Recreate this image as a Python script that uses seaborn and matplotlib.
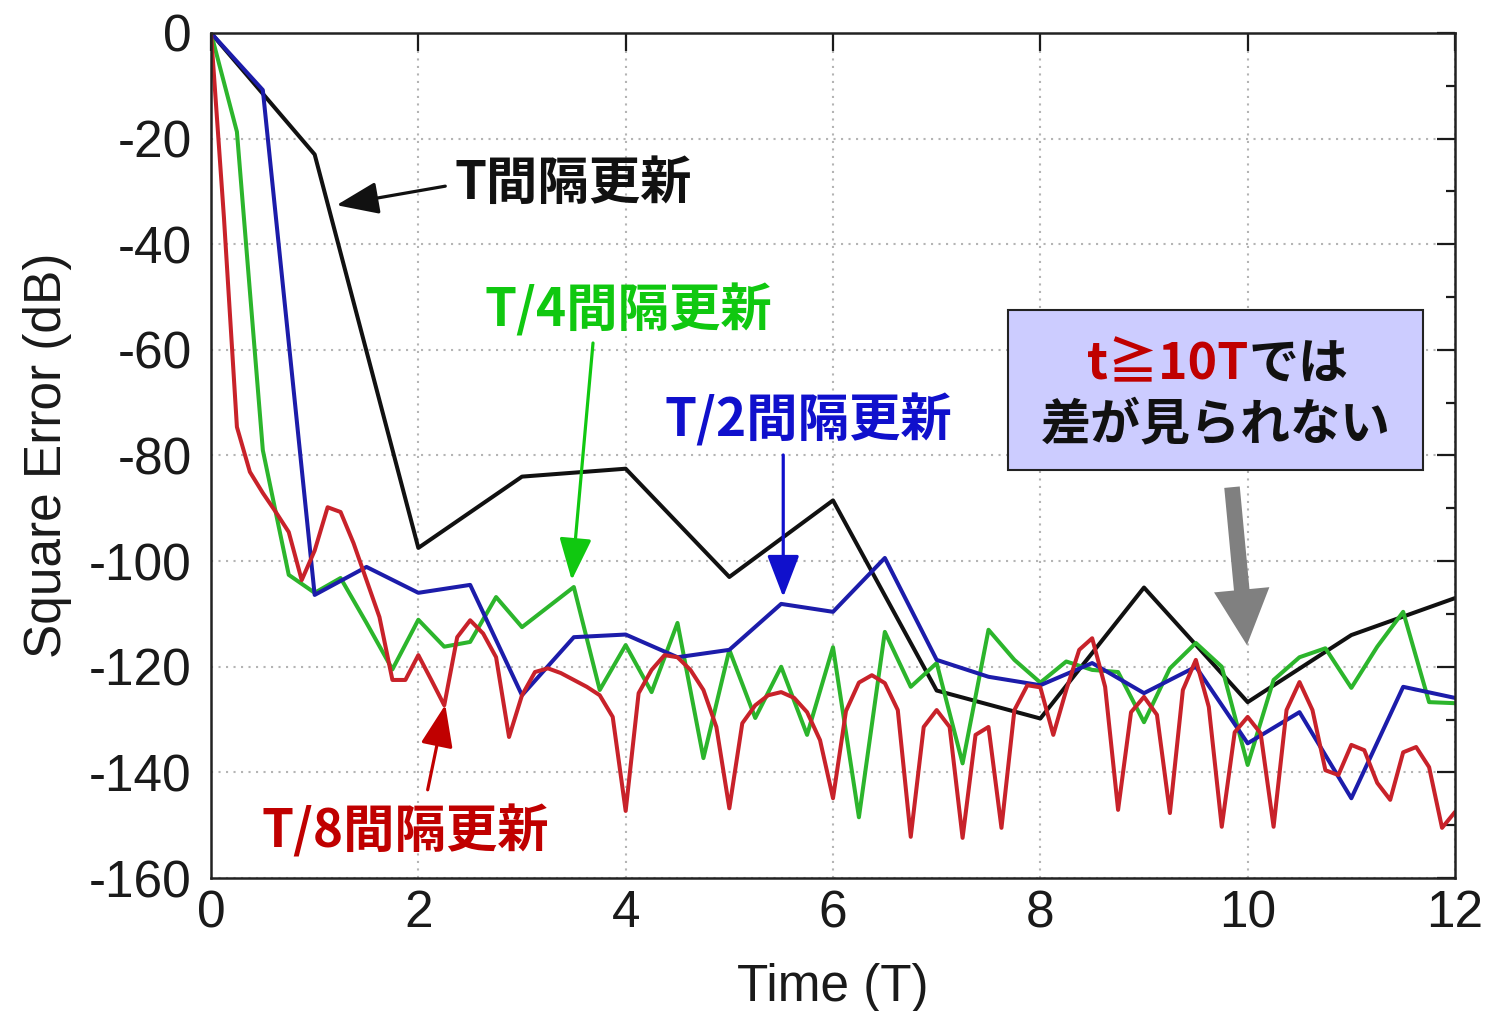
import numpy as np
import pandas as pd
import matplotlib
matplotlib.use("Agg")
import matplotlib.pyplot as plt
from matplotlib.patches import Rectangle
from matplotlib.ticker import MultipleLocator
import seaborn as sns

# Sampling grids (time in units of T) for each update interval
t_T = np.arange(0, 12.001, 1.0)
t_T2 = np.arange(0, 12.001, 0.5)
t_T4 = np.arange(0, 12.001, 0.25)
t_T8 = np.arange(0, 12.001, 0.125)

# Square error (dB) for update interval T
err_T = [0, -23, -97.5, -84, -82.5, -103, -88.5, -124.5, -129.8, -105, -126.7, -114, -107]

# Square error (dB) for update interval T/2
err_T2 = [0, -10.8, -106.4, -101.1, -106, -104.5, -125.4, -114.4, -113.9, -118.2,
          -116.8, -108.1, -109.6, -99.4, -118.7, -121.9, -123.5, -119.3, -125, -120,
          -134.5, -128.6, -144.9, -123.8, -125.9]

# Square error (dB) for update interval T/4
err_T4 = [0, -18.7, -79, -102.6,
          -106, -103.2, -111.7, -120.5,
          -111.1, -116.2, -115.3, -106.8,
          -112.5, -108.7, -104.9, -124.4,
          -115.9, -124.8, -111.7, -137.3,
          -116.8, -129.7, -120, -132.9,
          -116.3, -148.5, -113.4, -123.8,
          -119.3, -138.3, -113, -118.7,
          -123, -119, -120.6, -121,
          -130.5, -120.3, -115.5, -120,
          -138.6, -122.5, -118.2, -116.5,
          -124, -116.2, -109.6, -126.7,
          -126.9]

# Square error (dB) for update interval T/8
err_T8 = [0, -35, -74.6, -83.1, -87.1, -90.7, -94.5, -103.6,
          -98, -89.8, -90.7, -96.6, -103.6, -110.6, -122.5, -122.5,
          -117.8, -122.5, -127.3, -114.4, -111.2, -113.7, -118.2, -133.3,
          -125.4, -121, -120.3, -121.2, -122.5, -123.8, -125.4, -129.5,
          -147.3, -125, -120.6, -117.8, -118.2, -120.6, -124.4, -131.4,
          -146.8, -130.7, -127.3, -125.4, -124.8, -125.9, -128.6, -133.9,
          -144.9, -128.4, -123, -121.6, -123.1, -128.2, -152.2, -131.4,
          -128.2, -131.4, -152.4, -132.9, -131.4, -150.5, -128.2, -123.5,
          -123.9, -132.9, -124.4, -116.8, -114.6, -123.8, -147.1, -128.6,
          -125.7, -129.1, -147.7, -124.4, -118.7, -127.6, -150.3, -132.4,
          -129.5, -132.6, -150.3, -128.2, -122.9, -128.2, -139.6, -140.5,
          -134.8, -135.8, -142, -145.2, -136.2, -135.2, -139, -150.5,
          -147.5]

series_labels = ["T間隔更新", "T/4間隔更新", "T/2間隔更新", "T/8間隔更新"]
line_colors = ["#111111", "#2cb52c", "#1c1caa", "#c8222a"]
text_colors = ["#111111", "#10c810", "#1010cc", "#c00000"]

df = pd.concat([
    pd.DataFrame({"time": t_T, "err": err_T, "interval": series_labels[0]}),
    pd.DataFrame({"time": t_T4, "err": err_T4, "interval": series_labels[1]}),
    pd.DataFrame({"time": t_T2, "err": err_T2, "interval": series_labels[2]}),
    pd.DataFrame({"time": t_T8, "err": err_T8, "interval": series_labels[3]}),
], ignore_index=True)

sns.set_style("white")
plt.rcParams["font.family"] = ["Liberation Sans", "DejaVu Sans"]
plt.rcParams["axes.unicode_minus"] = False
CJK = ["Noto Sans CJK JP", "DejaVu Sans"]

fig = plt.figure(figsize=(14.88, 10.11), dpi=100)
ax = fig.add_axes([211 / 1488, 133 / 1011, 1244 / 1488, 845 / 1011])

sns.lineplot(data=df, x="time", y="err", hue="interval",
             palette=dict(zip(series_labels, line_colors)),
             estimator=None, sort=False, legend=False, ax=ax)
for ln in ax.lines:
    ln.set_linewidth(2.9)
    ln.set_solid_joinstyle("round")

ax.set_xlim(0, 12)
ax.set_ylim(-160, 0)
ax.xaxis.set_major_locator(MultipleLocator(2))
ax.yaxis.set_major_locator(MultipleLocator(20))
ax.yaxis.set_minor_locator(MultipleLocator(10))
ax.tick_params(which="both", direction="in", top=True, right=True,
               colors="#1a1a1a", width=1.6)
ax.tick_params(which="major", length=13, labelsize=37)
ax.tick_params(which="minor", length=6.5)
ax.tick_params(axis="y", pad=14)
ax.tick_params(axis="x", pad=8)
ax.grid(True, which="major", linestyle=(0, (1, 2.6)), color="#b4b4b4", linewidth=1.5)
for s in ax.spines.values():
    s.set_linewidth(1.8)
    s.set_color("#222222")

ax.set_xlabel("Time (T)", fontsize=37, color="#1a1a1a", labelpad=18)
ax.set_ylabel("Square Error (dB)", fontsize=37, color="#1a1a1a", labelpad=12)


def label_arrow(text, color, txt_xy, tail, tip):
    ax.text(*txt_xy, text, color=color, fontsize=37, fontweight="bold",
            family=CJK, ha="center", va="center", zorder=6)
    ax.annotate("", xy=tip, xytext=tail, zorder=6,
                arrowprops=dict(arrowstyle="-|>,head_length=1.3,head_width=0.5",
                                mutation_scale=20, lw=2.3, color=color,
                                shrinkA=0, shrinkB=0))


label_arrow(series_labels[0], text_colors[0], (3.49, -28.4), (2.26, -29.0), (1.21, -32.6))
label_arrow(series_labels[1], text_colors[1], (4.03, -52.6), (3.685, -58.7), (3.48, -103.6))
label_arrow(series_labels[2], text_colors[2], (5.76, -73.5), (5.52, -79.9), (5.52, -106.8))
label_arrow(series_labels[3], text_colors[3], (1.87, -151.3), (2.09, -143.3), (2.26, -127.2))

# Call-out box
ax.add_patch(Rectangle((7.688, -82.75), 11.691 - 7.688, 82.75 - 52.45,
                       facecolor="#ccccff", edgecolor="#222222", lw=1.5, zorder=7))
t1 = ax.text(8.45, -62.9, "t≧10T", color="#c00000", fontsize=36, fontweight="bold",
             family=CJK, ha="left", va="center", zorder=8)
ax.annotate("では", xy=(1, 0.5), xycoords=t1, color="#111111", fontsize=36,
            fontweight="bold", family=CJK, ha="left", va="center", zorder=8)
ax.text(9.69, -74.2, "差が見られない", color="#111111", fontsize=36, fontweight="bold",
        family=CJK, ha="center", va="center", zorder=8)

# Thick grey pointer
ax.annotate("", xy=(9.993, -115.9), xytext=(9.849, -86.0), zorder=8,
            arrowprops=dict(arrowstyle="simple,head_length=1.0,head_width=1.0,tail_width=0.28",
                            mutation_scale=40, color="#808080", lw=0,
                            shrinkA=0, shrinkB=0))

fig.savefig("out.png", dpi=100)
